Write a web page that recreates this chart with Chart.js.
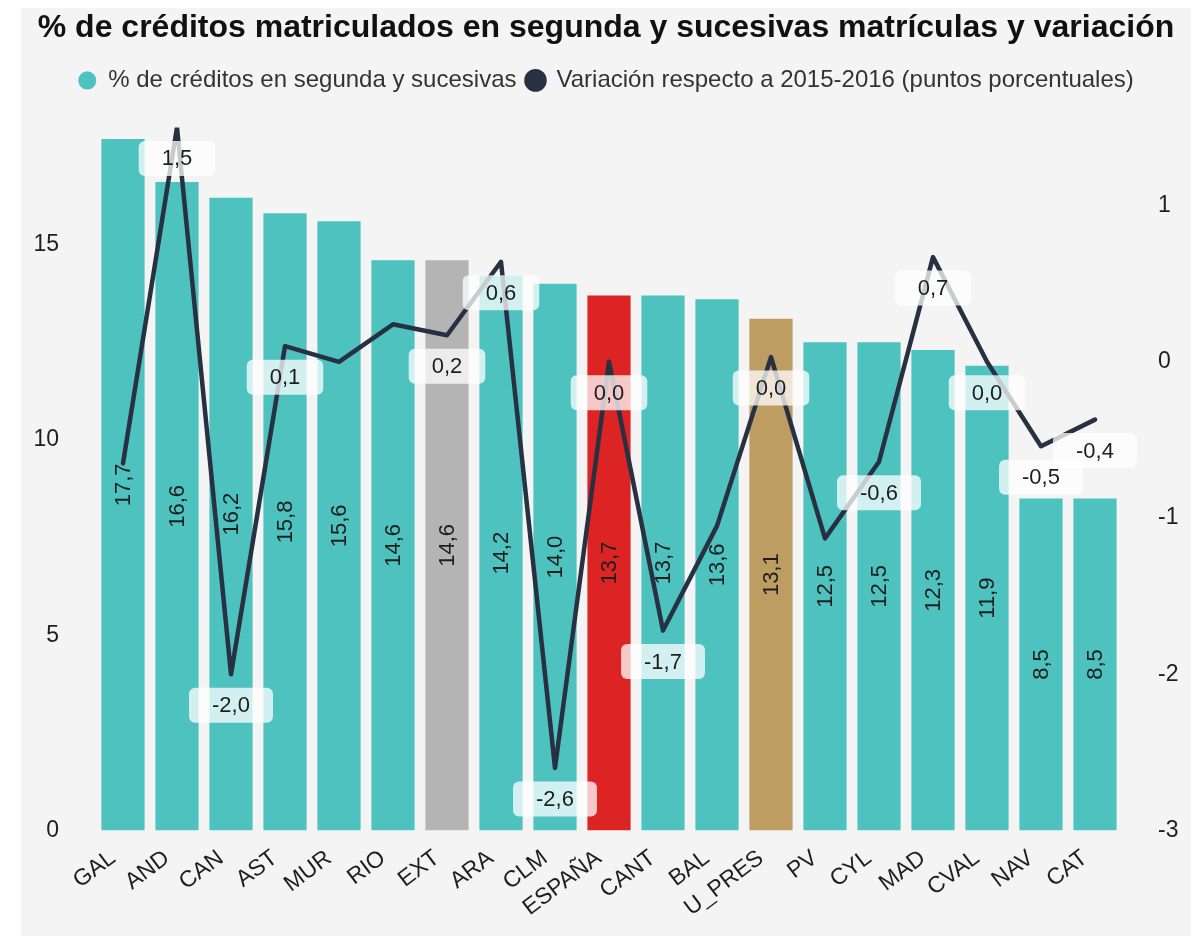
<!DOCTYPE html>
<html>
<head>
<meta charset="utf-8">
<script src="https://cdn.jsdelivr.net/npm/chart.js@4.4.0/dist/chart.umd.min.js"></script>
<style>
  body { margin: 0; background: #fff; }
  #wrap { position: absolute; left: 21px; top: 8px; width: 1170px; height: 928px; background: #f4f4f4; }
</style>
</head>
<body>
<div id="wrap"><canvas id="chart"></canvas></div>
<script>
const categories = ['GAL', 'AND', 'CAN', 'AST', 'MUR', 'RIO', 'EXT', 'ARA', 'CLM', 'ESPAÑA',
  'CANT', 'BAL', 'U_PRES', 'PV', 'CYL', 'MAD', 'CVAL', 'NAV', 'CAT'];
const creditPct = [17.7, 16.6, 16.2, 15.8, 15.6, 14.6, 14.6, 14.2, 14.0, 13.7,
  13.7, 13.6, 13.1, 12.5, 12.5, 12.3, 11.9, 8.5, 8.5];
const variation = [-0.65, 1.5, -2.0, 0.1, 0.0, 0.24, 0.17, 0.64, -2.6, 0.0,
  -1.72, -1.05, 0.03, -1.13, -0.64, 0.67, 0.0, -0.54, -0.37];
// labels of the line that are visible in the original (the others are hidden by overlap)
const varLabelShown = [false, true, true, true, false, false, true, true, true, true,
  true, false, true, false, true, true, true, true, true];
const leftTicks = [0, 5, 10, 15];
const rightTicks = [-3, -2, -1, 0, 1];

const teal = '#4dc2bf';
const highlight = { 'EXT': '#b4b4b4', 'ESPAÑA': '#dc2424', 'U_PRES': '#be9d63' };
const fontFamily = '"Liberation Sans", Arial, sans-serif';

function fmt(v) {
  return v.toFixed(1).replace('.', ',');
}

// extra room under the legend
const legendGap = {
  id: 'legendGap',
  beforeInit(chart) {
    const legend = chart.legend;
    const fit = legend.fit.bind(legend);
    legend.fit = function () {
      fit();
      this.height += 25;
    };
  }
};

const labelPlugin = {
  id: 'valueLabels',
  afterDatasetDraw(chart, args) {
    if (args.index !== 0) return;
    const ctx = chart.ctx;
    ctx.save();
    ctx.font = '22px ' + fontFamily;
    ctx.fillStyle = '#1e1e1e';
    ctx.textAlign = 'center';
    ctx.textBaseline = 'middle';
    args.meta.data.forEach((bar, i) => {
      const y = (bar.y + bar.base) / 2;
      ctx.save();
      ctx.translate(bar.x + 1, y);
      ctx.rotate(-Math.PI / 2);
      ctx.fillText(fmt(creditPct[i]), 0, 0);
      ctx.restore();
    });
    ctx.restore();
  },
  afterDatasetsDraw(chart) {
    const ctx = chart.ctx;
    const meta = chart.getDatasetMeta(1);
    ctx.save();
    ctx.font = '22px ' + fontFamily;
    ctx.textAlign = 'center';
    ctx.textBaseline = 'middle';
    meta.data.forEach((pt, i) => {
      if (!varLabelShown[i]) return;
      const text = fmt(variation[i]);
      const w = ctx.measureText(text).width + 46;
      const h = 35;
      const cx = pt.x, cy = pt.y + 31;
      ctx.fillStyle = 'rgba(255,255,255,0.75)';
      ctx.beginPath();
      ctx.roundRect(cx - w / 2, cy - h / 2, w, h, 6);
      ctx.fill();
      ctx.fillStyle = '#1e1e1e';
      ctx.fillText(text, cx, cy + 1);
    });
    ctx.restore();
  }
};

new Chart(document.getElementById('chart'), {
  type: 'bar',
  data: {
    labels: categories,
    datasets: [{
      type: 'bar',
      label: '% de créditos en segunda y sucesivas',
      data: creditPct,
      backgroundColor: categories.map(c => highlight[c] || teal),
      categoryPercentage: 1,
      barPercentage: 0.8,
      yAxisID: 'y',
      order: 2
    }, {
      type: 'line',
      label: 'Variación respecto a 2015-2016 (puntos porcentuales)',
      data: variation,
      borderColor: '#273142',
      backgroundColor: '#273142',
      borderWidth: 4.5,
      borderCapStyle: 'round',
      borderJoinStyle: 'round',
      pointRadius: 0,
      tension: 0,
      yAxisID: 'y1',
      order: 1
    }]
  },
  options: {
    responsive: true,
    maintainAspectRatio: false,
    animation: false,
    layout: { padding: { left: 0, right: 0, top: 0, bottom: 8 } },
    plugins: {
      tooltip: { enabled: false },
      title: {
        display: true,
        text: '% de créditos matriculados en segunda y sucesivas matrículas y variación',
        color: '#111',
        font: { family: fontFamily, size: 32, weight: 'bold' },
        padding: { top: 1, bottom: 11 }
      },
      legend: {
        labels: {
          sort: (a, b) => a.datasetIndex - b.datasetIndex,
          usePointStyle: true,
          pointStyle: 'circle',
          boxHeight: 13,
          pointStyleWidth: 18,
          color: '#333',
          padding: 10,
          font: { family: fontFamily, size: 24 }
        }
      }
    },
    scales: {
      x: {
        grid: { display: false },
        border: { display: false },
        afterFit: s => { s.paddingLeft = 0; s.paddingRight = 0; },
        ticks: {
          color: '#1e1e1e',
          minRotation: 37,
          maxRotation: 37,
          autoSkip: false,
          padding: 6,
          labelOffset: -10,
          font: { family: fontFamily, size: 23 }
        }
      },
      y: {
        position: 'left',
        min: 0,
        max: 18,
        grid: { display: false },
        border: { display: false },
        afterBuildTicks: s => { s.ticks = leftTicks.map(v => ({ value: v })); },
        afterFit: s => { s.width = 75; },
        ticks: {
          color: '#1e1e1e',
          padding: 29,
          font: { family: fontFamily, size: 23 }
        }
      },
      y1: {
        position: 'right',
        min: -3,
        max: 1.5,
        grid: { display: false },
        border: { display: false },
        afterBuildTicks: s => { s.ticks = rightTicks.map(v => ({ value: v })); },
        afterFit: s => { s.width = 69; },
        ticks: {
          color: '#1e1e1e',
          padding: 28,
          font: { family: fontFamily, size: 23 }
        }
      }
    }
  },
  plugins: [legendGap, labelPlugin]
});
</script>
</body>
</html>
